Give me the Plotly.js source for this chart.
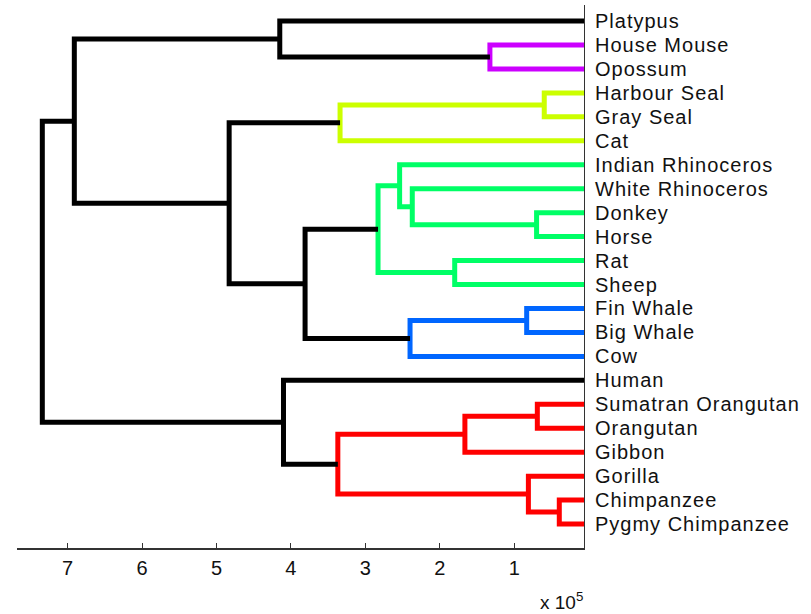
<!DOCTYPE html>
<html>
<head>
<meta charset="utf-8">
<script src="https://cdn.plot.ly/plotly-3.0.1.min.js"></script>
<style>
  html, body { margin: 0; padding: 0; background: #fff; }
  #chart { width: 811px; height: 614px; }
  #chart .ytick text { letter-spacing: 1px; }
</style>
</head>
<body>
<div id="chart"></div>
<script>
// Leaf labels in display order, top to bottom
const leafNames = [
  "Platypus", "House Mouse", "Opossum", "Harbour Seal", "Gray Seal", "Cat",
  "Indian Rhinoceros", "White Rhinoceros", "Donkey", "Horse", "Rat", "Sheep",
  "Fin Whale", "Big Whale", "Cow", "Human", "Sumatran Orangutan", "Orangutan",
  "Gibbon", "Gorilla", "Chimpanzee", "Pygmy Chimpanzee"
];

// Linkage: merge k creates node id (leafNames.length + k) from two children.
// Heights are distances in units of 10^5.
const mergeLeft   = [20, 16, 3, 8, 19, 12, 1, 23, 10, 7, 6, 27, 32, 24, 29, 34, 15, 0, 35, 39, 41];
const mergeRight  = [21, 17, 4, 9, 22, 13, 2, 18, 11, 25, 31, 14, 30, 5, 26, 33, 36, 28, 37, 40, 38];
const mergeHeight = [0.395, 0.69, 0.597, 0.70, 0.81, 0.833, 1.327, 1.663, 1.80, 2.37, 2.54,
                     2.40, 2.83, 3.34, 3.37, 3.81, 4.10, 4.15, 4.83, 6.91, 7.34];

// Cluster colouring threshold and colours for clusters, top to bottom
const colorThreshold = 3.5;
const clusterColors = ["#cc00ff", "#ccff00", "#00ff66", "#0066ff", "#ff0000"];
const linkColor = "#000000";

// Axis tick values (units of 10^5)
const xTickVals = [1, 2, 3, 4, 5, 6, 7];
const xTickText = ["1", "2", "3", "4", "5", "6", "7"];

const nLeaves = leafNames.length;
const nNodes = nLeaves + mergeHeight.length;

// Positions of every node
const nodeY = new Array(nNodes);
const nodeH = new Array(nNodes).fill(0);
const parent = new Array(nNodes).fill(-1);
for (let i = 0; i < nLeaves; i++) nodeY[i] = nLeaves - i;
for (let k = 0; k < mergeHeight.length; k++) {
  const id = nLeaves + k;
  nodeY[id] = (nodeY[mergeLeft[k]] + nodeY[mergeRight[k]]) / 2;
  nodeH[id] = mergeHeight[k];
  parent[mergeLeft[k]] = id;
  parent[mergeRight[k]] = id;
}

// Cluster roots: merges below the threshold whose parent is above it
const clusterRoots = [];
for (let k = 0; k < mergeHeight.length; k++) {
  const id = nLeaves + k;
  if (nodeH[id] < colorThreshold && (parent[id] < 0 || nodeH[parent[id]] >= colorThreshold)) {
    clusterRoots.push(id);
  }
}
clusterRoots.sort((a, b) => nodeY[b] - nodeY[a]);
const rootColor = {};
clusterRoots.forEach((id, i) => { rootColor[id] = clusterColors[i % clusterColors.length]; });

function colorOf(id) {
  if (nodeH[id] >= colorThreshold) return linkColor;
  let r = id;
  while (parent[r] >= 0 && nodeH[parent[r]] < colorThreshold) r = parent[r];
  return rootColor[r] || linkColor;
}

// One U-shaped link per merge, grouped by colour
const groups = {};
for (let k = 0; k < mergeHeight.length; k++) {
  const id = nLeaves + k;
  const a = mergeLeft[k], b = mergeRight[k];
  const c = colorOf(id);
  if (!groups[c]) groups[c] = { x: [], y: [] };
  const g = groups[c];
  g.x.push(nodeH[a], nodeH[id], nodeH[id], nodeH[b], null);
  g.y.push(nodeY[a], nodeY[a], nodeY[b], nodeY[b], null);
}

const traces = Object.keys(groups).map(c => ({
  type: "scatter",
  mode: "lines",
  x: groups[c].x,
  y: groups[c].y,
  line: { color: c, width: 5 },
  hoverinfo: "skip",
  connectgaps: false
}));

const fontFamily = "Liberation Sans, Arial, Helvetica, sans-serif";

const layout = {
  width: 811,
  height: 614,
  margin: { l: 17, r: 227, t: 5, b: 66 },
  paper_bgcolor: "#ffffff",
  plot_bgcolor: "#ffffff",
  showlegend: false,
  xaxis: {
    range: [7.68, 0.063],
    tickvals: xTickVals,
    ticktext: xTickText,
    ticks: "inside",
    ticklen: 5,
    tickwidth: 1,
    tickcolor: "#333333",
    showline: true,
    linecolor: "#333333",
    linewidth: 1.5,
    showgrid: false,
    zeroline: false,
    ticklabelstandoff: 1,
    tickfont: { family: fontFamily, size: 20, color: "#111111" },
    fixedrange: true
  },
  yaxis: {
    side: "right",
    range: [0, 22.67],
    tickvals: leafNames.map((_, i) => nLeaves - i),
    ticktext: leafNames,
    ticks: "",
    showline: true,
    linecolor: "#333333",
    linewidth: 1,
    showgrid: false,
    zeroline: false,
    ticklabelstandoff: 6,
    tickfont: { family: fontFamily, size: 20, color: "#111111" },
    fixedrange: true
  },
  annotations: [{
    xref: "paper", yref: "paper",
    x: 1.002, y: -0.097,
    xanchor: "right", yanchor: "middle",
    text: "x 10<sup>5</sup>",
    showarrow: false,
    font: { family: fontFamily, size: 19, color: "#111111" }
  }]
};

Plotly.newPlot("chart", traces, layout, { displayModeBar: false, staticPlot: true });
</script>
</body>
</html>
